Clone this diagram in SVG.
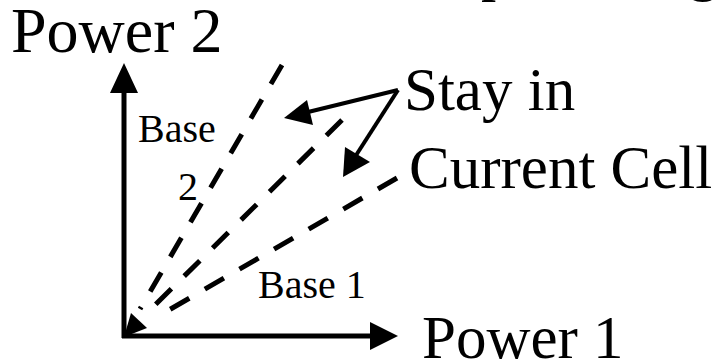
<svg xmlns="http://www.w3.org/2000/svg" width="725" height="361" viewBox="0 0 725 361">
  <defs>
    <style>
      .axis { stroke: #000; stroke-width: 5; fill: none; }
      .dash { stroke: #000; stroke-width: 5; fill: none; stroke-dasharray: 22 18; }
      .ptr { stroke: #000; stroke-width: 4; fill: none; }
      .head { fill: #000; stroke: none; }
    </style>
  </defs>
  <rect width="725" height="361" fill="#fff"/>

  <g font-family="'Liberation Serif', 'Times New Roman', 'DejaVu Serif', serif" fill="#000">
    <!-- title line above the frame, only its descenders fall inside -->
    <text font-size="61" y="-11.5"><tspan x="481">p</tspan><tspan x="688">g</tspan></text>

    <g id="power2"><text font-size="64" x="11" y="52">Power 2</text></g>
    <g id="power1"><text font-size="61" x="422" y="358">Power 1</text></g>
    <g id="stay"><text font-size="61" x="404" y="110">Stay in</text><text font-size="61" x="409" y="188">Current Cell</text></g>
    <g id="base2"><text font-size="40" x="138" y="142">Base</text><text font-size="40" x="178" y="200">2</text></g>
    <g id="base1"><text font-size="40" x="258" y="298">Base 1</text></g>
  </g>

  <g id="connectors">
    <!-- axes -->
    <line class="axis" x1="124" y1="338" x2="124" y2="88"/>
    <polygon class="head" points="124,63 110,93 138,93"/>
    <line class="axis" x1="122" y1="336" x2="374" y2="336"/>
    <polygon class="head" points="398,336 370,322 370,350"/>

    <!-- dashed boundary lines -->
    <line class="dash" x1="282" y1="65" x2="140" y2="309"/>
    <line class="dash" x1="342" y1="120" x2="152" y2="308"/>
    <polygon class="head" points="124,337 131,313 147,328"/>
    <line class="dash" x1="397" y1="178" x2="162" y2="314"/>

    <!-- pointers from the label -->
    <line class="ptr" x1="398" y1="90" x2="304" y2="113"/>
    <polygon class="head" points="284,118 307,100 313,125"/>
    <line class="ptr" x1="398" y1="90" x2="353" y2="160"/>
    <polygon class="head" points="343,177 345,147 370,162"/>
  </g>
</svg>
